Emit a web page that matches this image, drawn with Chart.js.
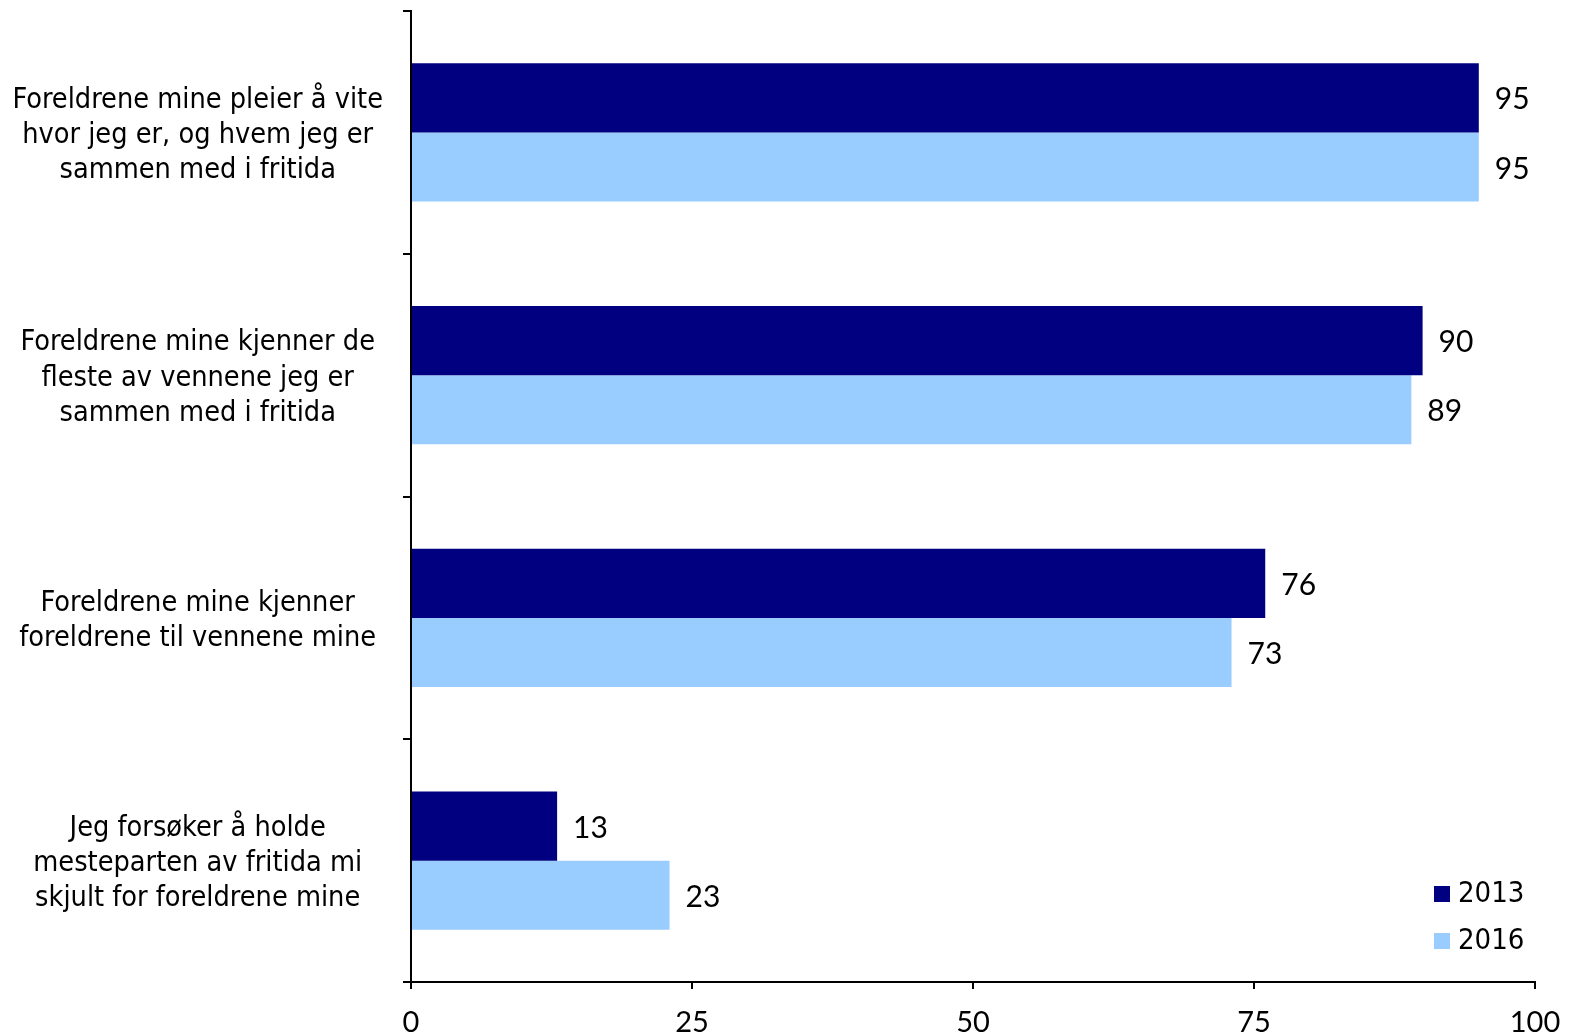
<!DOCTYPE html>
<html>
<head>
<meta charset="utf-8">
<script src="https://cdn.jsdelivr.net/npm/chart.js@4"></script>
<style>
  html, body { margin: 0; padding: 0; background: #fff; }
  #wrap { width: 1569px; height: 1035px; }
</style>
</head>
<body>
<div id="wrap"><canvas id="foreldre"></canvas></div>
<script>
// spørsmål (én linje per element)
var kategorier = [
    ['Foreldrene mine pleier å vite', 'hvor jeg er, og hvem jeg er', 'sammen med i fritida'],
    ['Foreldrene mine kjenner de', 'fleste av vennene jeg er', 'sammen med i fritida'],
    ['Foreldrene mine kjenner', 'foreldrene til vennene mine'],
    ['Jeg forsøker å holde', 'mesteparten av fritida mi', 'skjult for foreldrene mine']
];
var aar = ['2013', '2016'];
var verdier2013 = [95, 90, 76, 13];
var verdier2016 = [95, 89, 73, 23];
var xTicks = [0, 25, 50, 75, 100];

var farger = ['#000080', '#99CCFF'];

// tall ved enden av hver søyle
var verdiEtiketter = {
    id: 'verdiEtiketter',
    afterDatasetsDraw: function(chart) {
        var ctx = chart.ctx;
        ctx.save();
        ctx.font = '30px Lato';
        ctx.fillStyle = '#000';
        ctx.textAlign = 'left';
        ctx.textBaseline = 'middle';
        chart.data.datasets.forEach(function(ds, i) {
            chart.getDatasetMeta(i).data.forEach(function(bar, j) {
                ctx.fillText(ds.data[j], bar.x + 16, bar.y + 2);
            });
        });
        ctx.restore();
    }
};

// forklaring nede til høyre inne i plottet
var forklaring = {
    id: 'forklaring',
    afterDraw: function(chart) {
        var ctx = chart.ctx;
        var a = chart.chartArea;
        ctx.save();
        ctx.font = '29px "DejaVu Sans Condensed", "DejaVu Sans"';
        ctx.textBaseline = 'middle';
        chart.data.datasets.forEach(function(ds, i) {
            var y = a.bottom - 88 + i * 47;
            ctx.fillStyle = ds.backgroundColor;
            ctx.fillRect(a.right - 101, y - 8, 16, 16);
            ctx.fillStyle = '#000';
            ctx.fillText(ds.label, a.right - 77, y);
        });
        ctx.restore();
    }
};

var ctx = document.getElementById('foreldre').getContext('2d');
var myBarChart = new Chart(ctx, {
    type: 'bar',
    data: {
        labels: kategorier,
        datasets: [{
            label: aar[0],
            backgroundColor: farger[0],
            data: verdier2013
        }, {
            label: aar[1],
            backgroundColor: farger[1],
            data: verdier2016
        }]
    },
    options: {
        indexAxis: 'y',
        responsive: true,
        maintainAspectRatio: false,
        animation: false,
        datasets: {
            bar: { categoryPercentage: 0.57, barPercentage: 1.0 }
        },
        layout: { padding: { top: 11, right: 34, bottom: 0, left: 0 } },
        plugins: {
            legend: { display: false },
            tooltip: { enabled: false }
        },
        scales: {
            x: {
                min: 0,
                max: 100,
                afterBuildTicks: function(scale) {
                    scale.ticks = xTicks.map(function(v) { return { value: v }; });
                },
                afterFit: function(scale) {
                    scale.height = 53;
                    scale.paddingLeft = 0;
                    scale.paddingRight = 0;
                },
                grid: { drawOnChartArea: false, tickLength: 7, color: '#000', lineWidth: 2 },
                border: { color: '#000', width: 2 },
                ticks: {
                    color: '#000',
                    font: { family: 'Lato', size: 29 },
                    padding: 16,
                    maxRotation: 0
                }
            },
            y: {
                afterFit: function(scale) {
                    scale.width = 411;
                    scale.paddingTop = 0;
                    scale.paddingBottom = 0;
                },
                grid: { offset: true, drawOnChartArea: false, tickLength: 8, color: '#000', lineWidth: 2 },
                border: { color: '#000', width: 2 },
                ticks: {
                    color: '#000',
                    crossAlign: 'center',
                    padding: 20,
                    labelOffset: 3,
                    font: { family: '"DejaVu Sans Condensed", "DejaVu Sans"', size: 28.6, lineHeight: 1.23 }
                }
            }
        }
    },
    plugins: [verdiEtiketter, forklaring]
});
</script>
</body>
</html>
